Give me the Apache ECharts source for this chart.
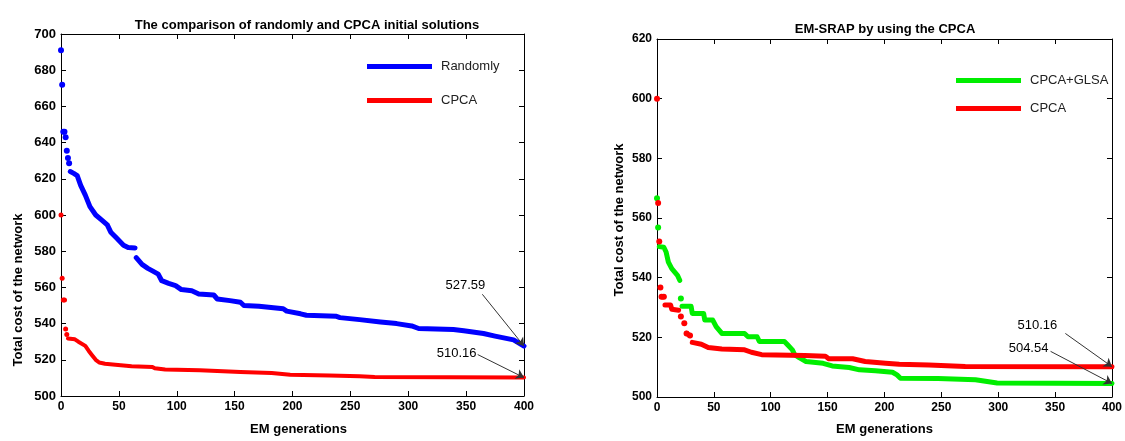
<!DOCTYPE html>
<html>
<head>
<meta charset="utf-8">
<script src="https://cdn.jsdelivr.net/npm/echarts@6.0.0/dist/echarts.min.js"></script>
<style>
  html, body { margin: 0; background: #fff; }
  #chart { width: 1125px; height: 441px; }
</style>
</head>
<body>
<div id="chart"></div>
<script>
// runs of [generation, total cost]; a new run starts where the trace has a gap
const leftRandomly = [
  [[0, 691]], [[1, 672]], [[2, 646], [3, 646]], [[4, 643]],
  [[5, 635.5]], [[6, 631.5]], [[7, 628.6]],
  [[8, 624], [11, 623], [14, 621.8], [17, 616.4], [21, 611], [25, 604.6], [30, 600],
   [35, 597.3], [40, 594.5], [43, 590.5], [48, 587.3], [54, 583.3], [58, 582], [64, 581.8]],
  [[65, 576.4], [70, 572.7], [75, 570.5], [79, 569.1], [84, 567.3], [87, 563.7], [93, 562.2],
   [99, 561], [104, 558.8], [113, 558.2], [119, 556.4], [132, 555.8], [135, 553.6], [146, 552.7],
   [155, 551.8], [158, 550], [171, 549.6], [172, 548.6], [192, 548.2], [195, 546.9], [207, 545.4],
   [212, 544.6], [238, 544], [241, 543.3], [258, 542.2], [276, 540.9], [290, 540], [303, 538.7],
   [309, 537.3], [339, 536.7], [348, 536], [365, 534.5], [375, 533.1], [391, 531], [400, 527.59]]
];
const leftCpca = [
  [[0, 600]], [[1, 565]], [[2, 553], [3, 553]], [[4, 537]], [[5, 534]],
  [[6, 531.8], [12, 531.3], [15, 530], [21, 527.7], [24, 524.9], [27, 522.4], [30, 520],
   [33, 518.5], [38, 517.8], [47, 517.3], [61, 516.4], [79, 516], [81, 515.3], [90, 514.6],
   [120, 514.2], [130, 514], [155, 513.3], [182, 512.7], [198, 511.8], [232, 511.3],
   [258, 510.9], [271, 510.5], [400, 510.16]]
];
const rightGlsa = [
  [[0, 566.6]], [[1, 556.8]],
  [[2, 550.4], [6, 550.2], [8, 548.6], [10, 545.2], [13, 543], [18, 540.8], [20, 539.1]],
  [[21, 533]],
  [[22, 530.4], [30, 530.4], [31, 528], [41, 528], [42, 525.8], [49, 525.8], [52, 523.6],
   [57, 521.3], [77, 521.3], [80, 520.2], [88, 520.2], [90, 518.6], [112, 518.6], [115, 517.4],
   [119, 515.8], [121, 514.2], [125, 513.2], [131, 511.9], [146, 511.3], [154, 510.4],
   [169, 509.9], [178, 509.1], [192, 508.8], [207, 508.3], [211, 507.4], [214, 506.3],
   [247, 506.2], [280, 505.8], [299, 504.7], [400, 504.54]]
];
const rightCpca = [
  [[0, 600]], [[1, 565]], [[2, 552.1]], [[3, 536.7]], [[4, 533.6], [6, 533.6]],
  [[7, 530.8], [12, 530.8], [13, 529.4], [19, 529.1]],
  [[21, 527]], [[24, 524.7]], [[26, 521.3], [29, 520.6]],
  [[31, 518.3], [39, 517.7], [45, 516.6], [57, 516.1], [77, 515.8], [83, 515], [92, 514.2],
   [130, 513.9], [148, 513.7], [151, 512.8], [172, 512.8], [173, 512.2], [183, 511.9],
   [201, 511.3], [213, 511], [239, 510.7], [271, 510.2], [400, 510.16]]
];
const xTicks = { min: 0, max: 400, interval: 50 };
const leftY = { min: 500, max: 700, interval: 20 };
const rightY = { min: 500, max: 620, interval: 20 };

const FONT = "Liberation Sans";

// join runs into one line, breaking it between runs; short runs get dots
function toLine(runs, size) {
  const out = [];
  runs.forEach((run, i) => {
    if (i > 0) out.push([run[0][0], '-']);
    run.forEach(p => {
      if (run.length <= 2) out.push({ value: p, symbol: 'circle', symbolSize: size });
      else out.push({ value: p, symbol: 'none' });
    });
  });
  return out;
}

function axis(pos, gridIndex, range, showLabel, fontSize) {
  return {
    type: 'value', gridIndex: gridIndex, position: pos,
    min: range.min, max: range.max, interval: range.interval,
    axisLine: { show: true, onZero: false, lineStyle: { color: '#000', width: 1 } },
    axisTick: { show: true, inside: true, length: 5, lineStyle: { color: '#000' } },
    splitLine: { show: false },
    axisLabel: {
      show: showLabel, color: '#000', fontFamily: FONT, fontWeight: 'bold',
      fontSize: fontSize, margin: 5, showMinLabel: true, showMaxLabel: true
    }
  };
}

// arrow from a label point to the final value
function arrowLine(from, to) {
  return [{ coord: from }, { coord: to }];
}
function arrowText(at, text, offset) {
  return { coord: at, value: text, label: { offset: offset } };
}

function lineSeries(name, runs, color, width, xi, yi, lines, texts) {
  return {
    name: name, type: 'line', xAxisIndex: xi, yAxisIndex: yi,
    data: toLine(runs, width + 1), connectNulls: false,
    symbol: 'circle', showSymbol: true,
    itemStyle: { color: color },
    lineStyle: { color: color, width: width, cap: 'round', join: 'round' },
    silent: true,
    markLine: {
      silent: true, symbol: ['none', 'arrow'], symbolSize: 8,
      lineStyle: { color: '#333', width: 1, type: 'solid' },
      label: { show: false },
      data: lines
    },
    markPoint: {
      silent: true, symbol: 'circle', symbolSize: 1,
      itemStyle: { color: 'rgba(0,0,0,0)' },
      label: { show: true, position: 'inside', color: '#000', fontFamily: FONT, fontSize: 13,
        formatter: p => p.value },
      data: texts
    }
  };
}

const chart = echarts.init(document.getElementById('chart'));
chart.setOption({
  animation: false,
  backgroundColor: '#fff',
  title: [
    { text: 'The comparison of randomly and CPCA initial solutions', left: 302, top: 14,
      textAlign: 'center',
      textStyle: { fontFamily: FONT, fontSize: 13, fontWeight: 'bold', color: '#000' } },
    { text: 'EM-SRAP by using the CPCA', left: 880, top: 18, textAlign: 'center',
      textStyle: { fontFamily: FONT, fontSize: 13, fontWeight: 'bold', color: '#000' } }
  ],
  legend: [
    { data: ['Randomly', 'CPCA'], left: 362, top: 55, orient: 'vertical', itemGap: 21,
      icon: 'rect', itemWidth: 65, itemHeight: 5, selectedMode: false,
      textStyle: { fontFamily: FONT, fontSize: 13, color: '#222', padding: [0, 0, 0, 4] } },
    { data: ['CPCA+GLSA', 'CPCA'], left: 951, top: 69, orient: 'vertical', itemGap: 15,
      icon: 'rect', itemWidth: 65, itemHeight: 5, selectedMode: false,
      textStyle: { fontFamily: FONT, fontSize: 13, color: '#222', padding: [0, 0, 0, 4] } }
  ],
  grid: [
    { left: 61, top: 34, width: 463, height: 366 },
    { left: 657, top: 39, width: 458, height: 360 }
  ],
  xAxis: [
    Object.assign(axis('bottom', 0, xTicks, true, 12), {
      name: 'EM generations', nameLocation: 'middle', nameGap: 27,
      nameTextStyle: { fontFamily: FONT, fontSize: 13, fontWeight: 'bold', color: '#000',
        padding: [0, 0, 0, 12] } }),
    axis('top', 0, xTicks, false, 12),
    Object.assign(axis('bottom', 1, xTicks, true, 12), {
      name: 'EM generations', nameLocation: 'middle', nameGap: 26,
      nameTextStyle: { fontFamily: FONT, fontSize: 13, fontWeight: 'bold', color: '#000' } }),
    axis('top', 1, xTicks, false, 12)
  ],
  yAxis: [
    axis('left', 0, leftY, true, 13),
    axis('right', 0, leftY, false, 13),
    axis('left', 1, rightY, true, 12),
    axis('right', 1, rightY, false, 12)
  ],
  graphic: [
    { type: 'text', x: 18, y: 290, rotation: Math.PI / 2,
      style: { text: 'Total cost of the network', textAlign: 'center', textVerticalAlign: 'middle',
        font: 'bold 13px "Liberation Sans"', fill: '#000' } },
    { type: 'text', x: 619, y: 220, rotation: Math.PI / 2,
      style: { text: 'Total cost of the network', textAlign: 'center', textVerticalAlign: 'middle',
        font: 'bold 13px "Liberation Sans"', fill: '#000' } }
  ],
  series: [
    lineSeries('Randomly', leftRandomly, '#0000ff', 5, 0, 0,
      [arrowLine([364, 556.2], [400, 527.59])],
      [arrowText([364, 556.2], '527.59', [-17, -9])]),
    lineSeries('CPCA', leftCpca, '#ff0000', 4, 0, 0,
      [arrowLine([360, 522.9], [400, 510.16])],
      [arrowText([360, 522.9], '510.16', [-21, -1])]),
    lineSeries('CPCA+GLSA', rightGlsa, '#00ee00', 5, 2, 2,
      [arrowLine([346, 515.3], [400, 504.54])],
      [arrowText([346, 515.3], '504.54', [-22, -3])]),
    lineSeries('CPCA', rightCpca, '#ff0000', 5, 2, 2,
      [arrowLine([359, 521.3], [400, 510.16])],
      [arrowText([359, 521.3], '510.16', [-28, -8])])
  ]
});
</script>
</body>
</html>
